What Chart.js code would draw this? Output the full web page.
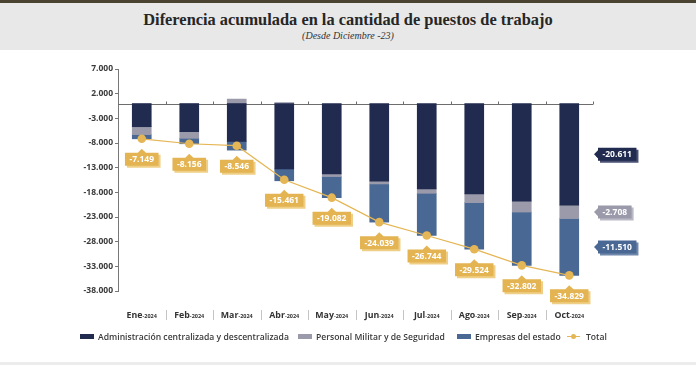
<!DOCTYPE html>
<html>
<head>
<meta charset="utf-8">
<script src="https://cdn.jsdelivr.net/npm/chart.js@4.4.1/dist/chart.umd.min.js"></script>
<style>
  html, body { margin: 0; padding: 0; background: #fff; }
  body { width: 696px; height: 365px; position: relative; overflow: hidden; font-family: 'Open Sans', sans-serif; }
  #topline { position: absolute; left: 0; top: 0; width: 696px; height: 3px; background: #4b4332; }
  #head { position: absolute; left: 0; top: 3px; width: 696px; height: 47px; background: #e8e8e9; text-align: center; }
  #title { position: absolute; top: 7px; width: 100%; font-family: 'Liberation Serif', serif; font-size: 16.4px; font-weight: bold; color: #262626; }
  #sub { position: absolute; top: 27px; width: 100%; font-family: 'Liberation Serif', serif; font-style: italic; font-size: 10px; color: #333; }
  #foot { position: absolute; left: 0; top: 362px; width: 696px; height: 3px; background: #ececec; }
  canvas { position: absolute; left: 0; top: 0; }
  .lg { position: absolute; top: 331px; height: 12px; font-size: 8.6px; font-weight: 600; color: #3a3a3a; line-height: 12px; white-space: nowrap; }
  .sw { display: inline-block; width: 14px; height: 5px; vertical-align: middle; margin-right: 4px; position: relative; top: -1px; }
</style>
</head>
<body>
<div id="topline"></div>
<div id="head">
  <div id="title">Diferencia acumulada en la cantidad de puestos de trabajo</div>
  <div id="sub">(Desde Diciembre -23)</div>
</div>
<canvas id="chart" width="696" height="365"></canvas>
<div class="lg" style="left:80px"><span class="sw" style="background:#212a4f"></span>Administración centralizada y descentralizada</div>
<div class="lg" style="left:298px"><span class="sw" style="background:#9a9aab"></span>Personal Militar y de Seguridad</div>
<div class="lg" style="left:457px"><span class="sw" style="background:#4a6894"></span>Empresas del estado</div>
<div class="lg" style="left:567px"><span class="sw" style="width:13px;height:1px;background:#e5b655;margin-right:6px;top:-1px"><span style="position:absolute;left:4px;top:-2px;width:5px;height:5px;border-radius:50%;background:#e5b655"></span></span>Total</div>
<div id="foot"></div>
<script>
const months = ['Ene', 'Feb', 'Mar', 'Abr', 'May', 'Jun', 'Jul', 'Ago', 'Sep', 'Oct'];
const year = '-2024';
const admin   = [-4700, -5700, -7700, -13250, -14250, -15750, -17300, -18300, -19800, -20611];
const militar = [-1600, -1350, 900, 200, -550, -550, -900, -1800, -2200, -2708];
const empresas = [-849, -1106, -1746, -2411, -4282, -7739, -8544, -9424, -10802, -11510];
const totals  = [-7149, -8156, -8546, -15461, -19082, -24039, -26744, -29524, -32802, -34829];
const yTicks = [7000, 2000, -3000, -8000, -13000, -18000, -23000, -28000, -33000, -38000];

const NAVY = '#212a4f', GRAY = '#9a9aab', BLUE = '#4a6894', GOLD = '#e5b655';

function fmt(n) {
  const s = String(Math.abs(n)).replace(/\B(?=(\d{3})+(?!\d))/g, '.');
  return (n < 0 ? '-' : '') + s;
}

function tagPath(ctx, bx, by, w, h, dir, tipX, tipY) {
  ctx.beginPath();
  if (dir === 'up') {
    ctx.moveTo(bx, by);
    ctx.lineTo(tipX - 4, by);
    ctx.lineTo(tipX, tipY);
    ctx.lineTo(tipX + 4, by);
    ctx.lineTo(bx + w, by);
    ctx.lineTo(bx + w, by + h);
    ctx.lineTo(bx, by + h);
  } else {
    ctx.moveTo(bx, by);
    ctx.lineTo(bx + w, by);
    ctx.lineTo(bx + w, by + h);
    ctx.lineTo(bx, by + h);
    ctx.lineTo(bx, tipY + 4);
    ctx.lineTo(tipX, tipY);
    ctx.lineTo(bx, tipY - 4);
  }
  ctx.closePath();
}

function drawTag(ctx, x, y, text, fill, shade, dir) {
  ctx.save();
  ctx.font = 'bold 8.5px "Open Sans"';
  const w = ctx.measureText(text).width + 9;
  const h = 13;
  let bx, by, tipX, tipY;
  if (dir === 'up') {
    bx = x - w / 2; by = y + 4; tipX = x; tipY = y;
  } else {
    bx = x + 4; by = y - h / 2; tipX = x; tipY = y;
  }
  ctx.fillStyle = shade;
  ctx.translate(2, 2);
  tagPath(ctx, bx, by, w, h, dir, tipX, tipY);
  ctx.fill();
  ctx.translate(-2, -2);
  ctx.fillStyle = fill;
  tagPath(ctx, bx, by, w, h, dir, tipX, tipY);
  ctx.fill();
  ctx.fillStyle = '#fff';
  ctx.textAlign = 'center';
  ctx.textBaseline = 'middle';
  ctx.fillText(text, bx + w / 2, by + h / 2 + 0.5);
  ctx.restore();
}

const axisDecor = {
  id: 'axisDecor',
  beforeDatasetsDraw(chart) {
    const { ctx, chartArea, scales: { x, y } } = chart;
    const y0 = Math.round(y.getPixelForValue(0)) + 0.5;
    ctx.save();
    ctx.strokeStyle = '#6d6d6d';
    ctx.lineWidth = 1;
    ctx.beginPath();
    ctx.moveTo(chartArea.left, y0);
    ctx.lineTo(chartArea.right, y0);
    for (let i = 0; i < months.length; i++) {
      const bx = Math.round(x.getPixelForValue(i + 0.5)) + 0.5;
      ctx.moveTo(bx, y0);
      ctx.lineTo(bx, y0 - 3);
    }
    ctx.stroke();
    ctx.restore();
  },
  afterDraw(chart) {
    const { ctx, scales: { x } } = chart;
    const ly = 315;
    ctx.save();
    ctx.textBaseline = 'middle';
    ctx.fillStyle = '#333';
    months.forEach((m, i) => {
      const cx = x.getPixelForValue(i);
      ctx.font = 'bold 8.8px "Open Sans"';
      const w1 = ctx.measureText(m).width;
      ctx.font = 'bold 5.5px "Open Sans"';
      const w2 = ctx.measureText(year).width;
      const sx = cx - (w1 + w2) / 2;
      ctx.font = 'bold 8.8px "Open Sans"';
      ctx.textAlign = 'left';
      ctx.fillText(m, sx, ly);
      ctx.font = 'bold 5.5px "Open Sans"';
      ctx.fillText(year, sx + w1, ly + 1);
    });
    ctx.strokeStyle = '#c4c4c4';
    ctx.lineWidth = 1;
    ctx.beginPath();
    for (let i = 0; i < months.length - 1; i++) {
      const bx = Math.round(x.getPixelForValue(i + 0.5)) + 0.5;
      ctx.moveTo(bx, ly - 5);
      ctx.lineTo(bx, ly + 5);
    }
    ctx.stroke();
    ctx.restore();
  }
};

const tagLabels = {
  id: 'tagLabels',
  afterDatasetsDraw(chart) {
    const { ctx, chartArea } = chart;
    chart.getDatasetMeta(3).data.forEach((pt, i) => {
      drawTag(ctx, pt.x, pt.y + 10, fmt(totals[i]), '#e4b453', '#efcf86', 'up');
    });
    const last = months.length - 1;
    const series = [admin, militar, empresas];
    const fills = [NAVY, GRAY, BLUE];
    const shades = ['#4a5273', '#b9b9c5', '#7088ab'];
    [0, 1, 2].forEach(d => {
      const el = chart.getDatasetMeta(d).data[last];
      const mid = (el.y + el.base) / 2;
      drawTag(ctx, chartArea.right + 1, mid, fmt(series[d][last]), fills[d], shades[d], 'left');
    });
  }
};

new Chart(document.getElementById('chart'), {
  data: {
    labels: months,
    datasets: [
      { type: 'bar', label: 'Administración centralizada y descentralizada', data: admin, backgroundColor: NAVY, stack: 'bars', barThickness: 19, order: 1 },
      { type: 'bar', label: 'Personal Militar y de Seguridad', data: militar, backgroundColor: GRAY, stack: 'bars', barThickness: 19, order: 1 },
      { type: 'bar', label: 'Empresas del estado', data: empresas, backgroundColor: BLUE, stack: 'bars', barThickness: 19, order: 1 },
      {
        type: 'line', label: 'Total', data: totals, stack: 'total', order: 0,
        borderColor: GOLD, borderWidth: 1.2, tension: 0,
        pointRadius: 4.3, pointBackgroundColor: GOLD, pointBorderWidth: 0,
      },
    ],
  },
  options: {
    responsive: false,
    animation: false,
    devicePixelRatio: 1,
    layout: { padding: { left: 0, right: 103, top: 69, bottom: 74 } },
    plugins: { legend: { display: false }, tooltip: { enabled: false } },
    scales: {
      x: { display: false, stacked: true, offset: true },
      y: {
        stacked: true,
        min: -38000,
        max: 7000,
        afterBuildTicks: s => { s.ticks = yTicks.map(v => ({ value: v })); },
        afterFit: s => { s.width = 118; },
        ticks: {
          callback: v => fmt(v),
          color: '#3a3a3a',
          font: { family: "'Open Sans'", size: 8.5, weight: 'bold' },
          padding: 2,
        },
        grid: { drawOnChartArea: false, drawTicks: true, tickLength: 3, color: '#777' },
        border: { display: true, color: '#777' },
      },
    },
  },
  plugins: [axisDecor, tagLabels],
});
</script>
</body>
</html>
